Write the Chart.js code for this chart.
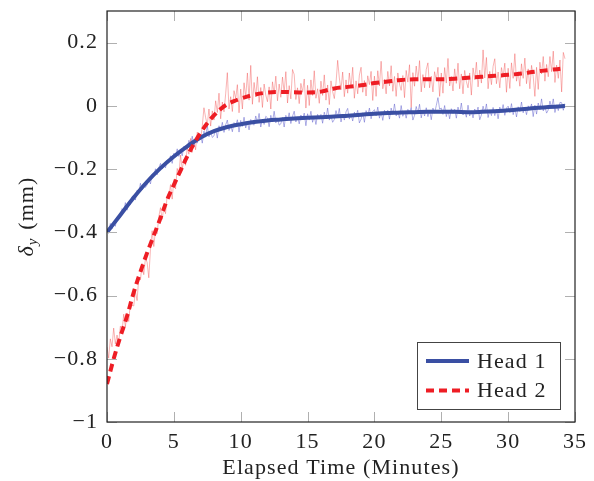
<!DOCTYPE html>
<html>
<head>
<meta charset="utf-8">
<script src="https://cdn.jsdelivr.net/npm/chart.js@4.4.0/dist/chart.umd.min.js"></script>
<style>
  body { margin: 0; background: #fff; }
  canvas { display: block; }
</style>
</head>
<body>
<canvas id="chart" width="594" height="481"></canvas>
<script>
// axis ticks
const xTicks = [0, 5, 10, 15, 20, 25, 30, 35];
const yTicks = [-1, -0.8, -0.6, -0.4, -0.2, 0, 0.2];

// smoothed curves
const head1Time = [0, 1, 2, 3, 4, 5, 6, 7, 8, 9, 10, 11, 12, 13, 14, 15, 16, 17, 18, 19, 20,
  21, 22, 23, 24, 25, 26, 27, 28, 29, 30, 31, 32, 33, 34, 34.25];
const head1Smooth = [-0.40, -0.345, -0.29, -0.24, -0.197, -0.16, -0.128, -0.10, -0.08, -0.067, -0.058,
  -0.051, -0.046, -0.043, -0.040, -0.038, -0.036, -0.034, -0.031, -0.028, -0.025,
  -0.023, -0.021, -0.020, -0.019, -0.019, -0.019, -0.020, -0.019, -0.017, -0.014,
  -0.011, -0.007, -0.004, -0.001, 0.0];

const head2Time = [0, 0.5, 1, 1.5, 2, 2.5, 3, 3.5, 4, 4.5, 5, 5.5, 6, 6.5, 7, 7.5, 8, 8.5, 9, 9.5, 10,
  11, 12, 13, 14, 15, 16, 17, 18, 19, 20, 21, 22, 23, 24, 25, 26, 27, 28, 29, 30, 31, 32, 33, 34, 34.25];
const head2Smooth = [-0.88, -0.80, -0.73, -0.665, -0.59, -0.525, -0.465, -0.41, -0.355, -0.297, -0.25,
  -0.205, -0.16, -0.12, -0.085, -0.055, -0.03, -0.01, 0.005, 0.015, 0.023,
  0.035, 0.042, 0.044, 0.043, 0.042, 0.045, 0.055, 0.060, 0.065, 0.072,
  0.077, 0.082, 0.084, 0.084, 0.084, 0.086, 0.089, 0.092, 0.095, 0.098,
  0.102, 0.108, 0.113, 0.118, 0.120];

// raw measurements, one sample every 0.125 min (one row = one minute)
const rawStep = 0.125;
const head1Raw = [
  -0.392, -0.399, -0.372, -0.389, -0.368, -0.381, -0.352, -0.356,
  -0.352, -0.325, -0.333, -0.306, -0.330, -0.307, -0.312, -0.287,
  -0.284, -0.298, -0.267, -0.275, -0.245, -0.266, -0.250, -0.258,
  -0.250, -0.231, -0.247, -0.216, -0.222, -0.199, -0.218, -0.196,
  -0.182, -0.200, -0.185, -0.196, -0.172, -0.175, -0.158, -0.182,
  -0.150, -0.162, -0.136, -0.160, -0.140, -0.158, -0.128, -0.136,
  -0.137, -0.109, -0.124, -0.096, -0.130, -0.106, -0.118, -0.091,
  -0.092, -0.118, -0.080, -0.099, -0.062, -0.098, -0.082, -0.100,
  -0.095, -0.073, -0.102, -0.063, -0.078, -0.052, -0.084, -0.060,
  -0.045, -0.078, -0.061, -0.082, -0.053, -0.063, -0.044, -0.083,
  -0.046, -0.065, -0.036, -0.070, -0.050, -0.076, -0.043, -0.057,
  -0.061, -0.032, -0.053, -0.024, -0.067, -0.042, -0.059, -0.033,
  -0.038, -0.066, -0.030, -0.051, -0.017, -0.054, -0.041, -0.061,
  -0.057, -0.037, -0.067, -0.030, -0.046, -0.022, -0.056, -0.033,
  -0.017, -0.051, -0.035, -0.057, -0.029, -0.041, -0.023, -0.063,
  -0.025, -0.045, -0.017, -0.052, -0.032, -0.059, -0.027, -0.042,
  -0.027, -0.055, -0.020, -0.041, -0.007, -0.045, -0.032, -0.052,
  -0.043, -0.015, -0.036, -0.008, -0.051, -0.027, -0.045, -0.019,
  -0.008, -0.042, -0.026, -0.048, -0.020, -0.032, -0.014, -0.054,
  -0.042, -0.022, -0.052, -0.015, -0.031, -0.007, -0.041, -0.018,
  -0.012, -0.032, -0.004, -0.039, -0.019, -0.046, -0.014, -0.029,
  -0.014, -0.042, -0.007, -0.028, 0.006, -0.032, -0.019, -0.039,
  0.001, -0.033, -0.017, -0.039, -0.011, -0.023, -0.005, -0.045,
  -0.030, -0.002, -0.023, 0.005, -0.038, -0.014, -0.032, -0.006,
  -0.034, -0.014, -0.044, -0.007, -0.023, 0.001, 0.026, -0.010,
  -0.007, -0.027, 0.001, -0.034, -0.014, -0.041, -0.009, -0.024,
  -0.011, -0.039, -0.004, -0.025, 0.009, -0.029, -0.016, -0.036,
  0.002, -0.032, -0.016, -0.038, -0.010, -0.022, -0.004, -0.044,
  -0.029, -0.001, -0.022, 0.006, -0.037, -0.013, -0.031, -0.005,
  -0.031, -0.011, -0.041, -0.004, -0.020, 0.004, -0.030, -0.007,
  -0.001, -0.021, 0.007, -0.028, -0.008, -0.035, -0.003, -0.018,
  0.012, -0.022, -0.006, -0.028, 0.000, -0.012, 0.006, -0.034,
  0.002, -0.026, 0.009, -0.012, 0.022, -0.016, -0.003, -0.023,
  -0.013, 0.015, -0.006, 0.022, -0.021, 0.003, -0.015, 0.011,
  0.010, -0.014, 0.006
];
const head2Raw = [
  -0.763, -0.798, -0.737, -0.762, -0.703, -0.753, -0.725, -0.749,
  -0.697, -0.714, -0.659, -0.699, -0.655, -0.682, -0.621, -0.631,
  -0.633, -0.586, -0.616, -0.543, -0.551, -0.499, -0.534, -0.482,
  -0.495, -0.544, -0.454, -0.395, -0.445, -0.393, -0.404, -0.350,
  -0.322, -0.359, -0.322, -0.341, -0.285, -0.289, -0.249, -0.295,
  -0.233, -0.263, -0.198, -0.218, -0.156, -0.201, -0.169, -0.188,
  -0.132, -0.153, -0.103, -0.147, -0.107, -0.139, -0.083, -0.097,
  -0.107, -0.064, -0.006, -0.037, -0.060, -0.010, -0.064, -0.016,
  -0.045, 0.016, -0.021, 0.040, -0.041, 0.012, -0.019, 0.038,
  0.105, -0.010, 0.029, -0.018, 0.048, 0.023, 0.067, -0.022,
  0.053, -0.010, 0.073, 0.025, 0.104, 0.018, 0.128, 0.005,
  0.074, 0.028, 0.092, 0.011, 0.058, -0.005, 0.069, 0.034,
  0.013, 0.060, -0.010, 0.076, 0.039, 0.094, 0.016, 0.069,
  0.027, 0.091, 0.043, 0.108, 0.009, 0.064, 0.022, 0.115,
  0.099, 0.020, 0.057, 0.007, 0.071, 0.043, 0.085, -0.007,
  0.065, 0.001, 0.082, 0.033, 0.111, 0.024, 0.054, 0.008,
  0.078, 0.033, 0.098, 0.018, 0.066, 0.004, 0.079, 0.045,
  0.023, 0.071, 0.144, 0.088, 0.051, 0.107, 0.029, 0.082,
  0.040, 0.104, 0.057, 0.122, 0.024, 0.079, 0.038, 0.097,
  0.122, 0.043, 0.080, 0.031, 0.095, 0.067, 0.109, 0.017,
  0.094, 0.030, 0.111, 0.063, 0.141, 0.054, 0.084, 0.038,
  0.109, 0.063, 0.127, 0.046, 0.093, 0.030, 0.104, 0.069,
  0.049, 0.096, 0.026, 0.112, 0.075, 0.130, -0.005, 0.105,
  0.062, 0.126, 0.078, 0.143, 0.044, 0.099, 0.057, 0.115,
  0.136, 0.057, 0.094, 0.044, 0.108, 0.080, 0.122, 0.030,
  0.104, 0.040, 0.121, 0.072, 0.150, 0.063, 0.093, 0.047,
  0.117, 0.071, 0.135, 0.054, 0.101, 0.038, 0.112, 0.077,
  0.057, 0.104, 0.034, 0.120, 0.083, 0.138, 0.060, 0.113,
  0.072, 0.177, 0.088, 0.153, 0.054, 0.109, 0.067, 0.125,
  0.149, 0.070, 0.107, 0.057, 0.121, 0.093, 0.135, 0.043,
  0.119, 0.055, 0.136, 0.087, 0.165, 0.078, 0.108, 0.062,
  0.133, 0.087, 0.151, 0.070, 0.117, 0.054, 0.128, 0.093,
  0.030, 0.122, 0.052, 0.138, 0.101, 0.156, 0.078, 0.131,
  0.092, 0.156, 0.108, 0.173, 0.074, 0.129, 0.087, 0.145,
  0.044, 0.169, 0.149
];

const seriesNames = ['Head 1', 'Head 2'];
const BLUE = '#3a4fa3';
const RED = '#ee1d24';
const FONT = '"Liberation Serif", "DejaVu Serif", serif';
const FONT_SIZE = 22;
const SPACING = '1.1px';

function points(xs, ys) {
  return ys.map(function(y, i) { return { x: xs[i], y: y }; });
}
const rawTime = head1Raw.map(function(_, i) { return i * rawStep; });

function fmt(v) {
  const s = String(Math.round(v * 10) / 10);
  return s.replace('-', '\u2212');
}

// wider letter spacing to get closer to the Computer Modern look
const spacingPlugin = {
  id: 'spacing',
  beforeUpdate: (chart) => { chart.ctx.letterSpacing = SPACING; },
  beforeDraw: (chart) => { chart.ctx.letterSpacing = SPACING; }
};

// frame, inward tick marks on all four sides, legend and the y title
const pgfPlugin = {
  id: 'pgf',
  afterDraw: (chart) => {
    const ctx = chart.ctx;
    const a = chart.chartArea;
    const xs = chart.scales.x, ys = chart.scales.y;
    ctx.save();
    ctx.strokeStyle = '#b0b0b0';
    ctx.lineWidth = 1;
    ctx.beginPath();
    xTicks.forEach(function(v) {
      const px = Math.round(xs.getPixelForValue(v)) + 0.5;
      ctx.moveTo(px, a.bottom); ctx.lineTo(px, a.bottom - 10);
      ctx.moveTo(px, a.top); ctx.lineTo(px, a.top + 10);
    });
    yTicks.forEach(function(v) {
      const py = Math.round(ys.getPixelForValue(v)) + 0.5;
      ctx.moveTo(a.left, py); ctx.lineTo(a.left + 10, py);
      ctx.moveTo(a.right, py); ctx.lineTo(a.right - 10, py);
    });
    ctx.stroke();

    ctx.strokeStyle = '#222';
    ctx.lineWidth = 1.2;
    ctx.strokeRect(a.left, a.top, a.right - a.left, a.bottom - a.top);

    // legend
    const lx = 417, ly = 342, lw = 143, lh = 67;
    ctx.fillStyle = '#fff';
    ctx.fillRect(lx, ly, lw, lh);
    ctx.strokeStyle = '#444';
    ctx.lineWidth = 1;
    ctx.strokeRect(lx + 0.5, ly + 0.5, lw, lh);
    const colors = [BLUE, RED];
    const dashes = [[], [8, 5]];
    seriesNames.forEach(function(name, i) {
      const y = ly + 19 + i * 29.5;
      ctx.strokeStyle = colors[i];
      ctx.lineWidth = 4;
      ctx.setLineDash(dashes[i]);
      ctx.beginPath();
      ctx.moveTo(lx + 9, y); ctx.lineTo(lx + 52, y);
      ctx.stroke();
      ctx.setLineDash([]);
      ctx.fillStyle = '#222';
      ctx.font = FONT_SIZE + 'px ' + FONT;
      ctx.textBaseline = 'middle';
      ctx.textAlign = 'left';
      ctx.fillText(name, lx + 60, y + 1);
    });

    // y axis title with subscript
    ctx.translate(26, (a.top + a.bottom) / 2);
    ctx.rotate(-Math.PI / 2);
    ctx.fillStyle = '#222';
    ctx.textBaseline = 'alphabetic';
    ctx.textAlign = 'left';
    const big = FONT_SIZE + 'px ' + FONT;
    const ital = 'italic ' + FONT_SIZE + 'px ' + FONT;
    const small = 'italic 15px ' + FONT;
    ctx.font = ital; const w1 = ctx.measureText('\u03b4').width;
    ctx.font = small; const w2 = ctx.measureText('y').width;
    ctx.font = big; const w3 = ctx.measureText(' (mm)').width;
    let x0 = -(w1 + w2 + 1 + w3) / 2;
    const base = 7;
    ctx.font = ital; ctx.fillText('\u03b4', x0, base); x0 += w1;
    ctx.font = small; ctx.fillText('y', x0, base + 4); x0 += w2 + 1;
    ctx.font = big; ctx.fillText(' (mm)', x0, base);
    ctx.restore();
  }
};

const ctx = document.getElementById('chart').getContext('2d');
const chart = new Chart(ctx, {
  type: 'line',
  plugins: [spacingPlugin, pgfPlugin],
  data: {
    datasets: [
      {
        label: seriesNames[1],
        data: points(head2Time, head2Smooth),
        borderColor: RED,
        borderWidth: 4,
        borderDash: [8, 5],
        pointRadius: 0,
        tension: 0.4
      },
      {
        label: seriesNames[0],
        data: points(head1Time, head1Smooth),
        borderColor: BLUE,
        borderWidth: 4,
        pointRadius: 0,
        tension: 0.4
      },
      {
        label: seriesNames[1] + ' raw',
        data: points(rawTime, head2Raw),
        borderColor: 'rgba(240, 70, 70, 0.4)',
        borderWidth: 1,
        pointRadius: 0,
        tension: 0
      },
      {
        label: seriesNames[0] + ' raw',
        data: points(rawTime, head1Raw),
        borderColor: 'rgba(80, 80, 200, 0.45)',
        borderWidth: 1,
        pointRadius: 0,
        tension: 0
      }
    ]
  },
  options: {
    responsive: false,
    animation: false,
    devicePixelRatio: 1,
    layout: { padding: { left: 0, right: 19, top: 11, bottom: 0 } },
    plugins: {
      legend: { display: false },
      tooltip: { enabled: false }
    },
    scales: {
      x: {
        type: 'linear',
        min: 0,
        max: 35,
        afterFit: (scale) => {
          scale.height = 59;
          scale.paddingLeft = 0;
          scale.paddingRight = 0;
        },
        afterBuildTicks: (scale) => { scale.ticks = xTicks.map(v => ({ value: v })); },
        grid: { display: false, drawTicks: false },
        border: { display: false },
        ticks: {
          color: '#222',
          padding: 7,
          maxRotation: 0,
          font: { family: FONT, size: FONT_SIZE },
          callback: (v) => fmt(v)
        },
        title: {
          display: true,
          text: 'Elapsed Time (Minutes)',
          color: '#222',
          padding: { top: 0, bottom: 0 },
          font: { family: FONT, size: FONT_SIZE }
        }
      },
      y: {
        type: 'linear',
        min: -1,
        max: 0.3,
        afterFit: (scale) => {
          scale.width = 107;
          scale.paddingTop = 0;
          scale.paddingBottom = 0;
        },
        afterBuildTicks: (scale) => { scale.ticks = yTicks.map(v => ({ value: v })); },
        grid: { display: false, drawTicks: false },
        border: { display: false },
        ticks: {
          color: '#222',
          padding: 9,
          font: { family: FONT, size: FONT_SIZE },
          callback: (v) => fmt(v)
        }
      }
    }
  }
});
</script>
</body>
</html>
